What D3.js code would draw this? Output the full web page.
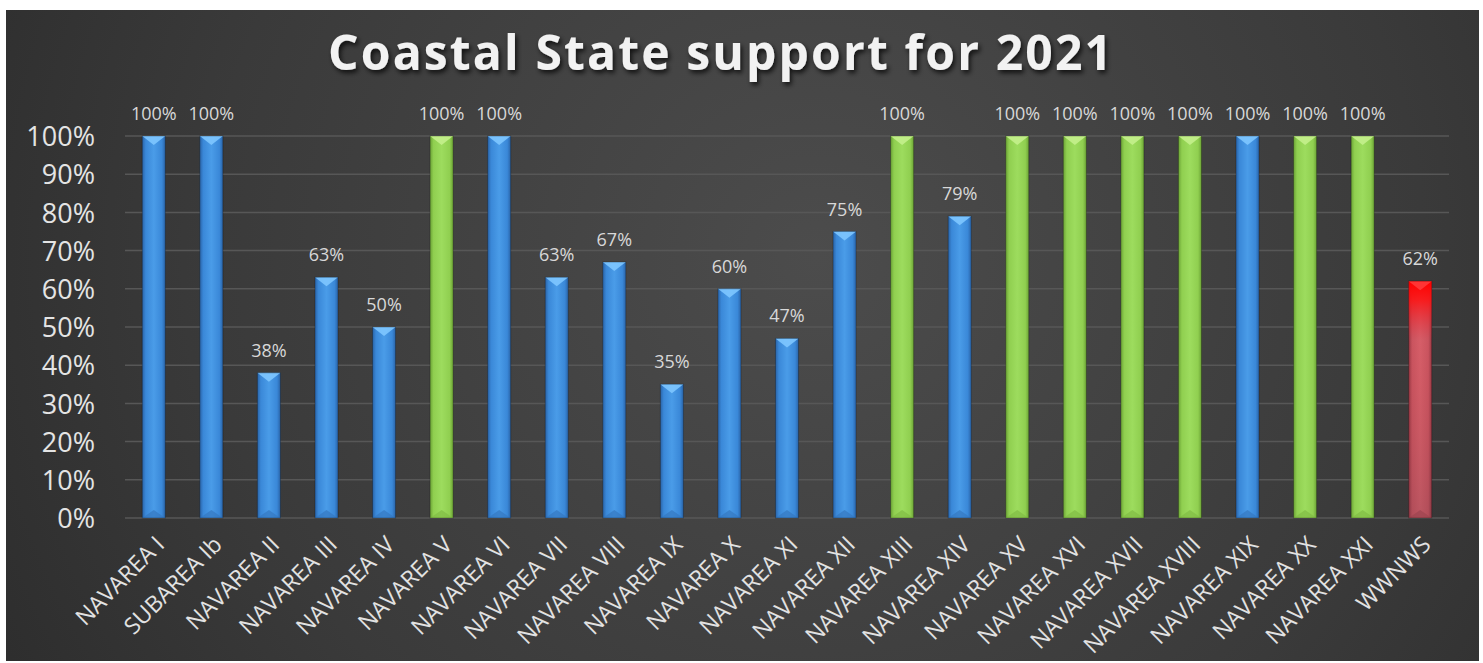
<!DOCTYPE html>
<html><head><meta charset="utf-8">
<script src="https://cdn.jsdelivr.net/npm/d3@7"></script>
<style>
html,body{margin:0;padding:0;background:#fff;}
svg{display:block;}
</style></head><body>
<svg id="chart" width="1483" height="663"></svg>
<script>
const categories = ["NAVAREA I","SUBAREA Ib","NAVAREA II","NAVAREA III","NAVAREA IV","NAVAREA V","NAVAREA VI","NAVAREA VII","NAVAREA VIII","NAVAREA IX","NAVAREA X","NAVAREA XI","NAVAREA XII","NAVAREA XIII","NAVAREA XIV","NAVAREA XV","NAVAREA XVI","NAVAREA XVII","NAVAREA XVIII","NAVAREA XIX","NAVAREA XX","NAVAREA XXI","WWNWS"];
const values = [100,100,38,63,50,100,100,63,67,35,60,47,75,100,79,100,100,100,100,100,100,100,62];
const colorGroups = ["blue","blue","blue","blue","blue","green","blue","blue","blue","blue","blue","blue","blue","green","blue","green","green","green","green","blue","green","green","red"];
const yTicks = [0,10,20,30,40,50,60,70,80,90,100];
const title = "Coastal State support for 2021";

const svg = d3.select("#chart");
const defs = svg.append("defs");

// background
const bg = defs.append("radialGradient").attr("id","bg")
  .attr("cx","0.55").attr("cy","0.38").attr("r","0.75")
  .attr("gradientTransform","translate(0.55,0.38) scale(1,2.2) translate(-0.55,-0.38)");
bg.append("stop").attr("offset","0%").attr("stop-color","#4c4c4c");
bg.append("stop").attr("offset","55%").attr("stop-color","#3a3a3a");
bg.append("stop").attr("offset","100%").attr("stop-color","#262626");
svg.append("rect").attr("x",6).attr("y",10).attr("width",1473).attr("height",651).attr("fill","url(#bg)");

const shadow = defs.append("filter").attr("id","tshadow").attr("x","-10%").attr("y","-30%").attr("width","120%").attr("height","160%");
shadow.append("feDropShadow").attr("dx",2).attr("dy",3).attr("stdDeviation",2.5).attr("flood-color","#000").attr("flood-opacity",0.75);

const palettes = {
  blue: {edge:"#2a64a8", mid:"#3a88d8", light:"#4a9ce8", top:"#7ec6ff", bot:"#3578c0"},
  green:{edge:"#6ca436", mid:"#90cf50", light:"#9ddc5e", top:"#c4f08c", bot:"#80bc44"},
  red:  {edge:"#8e3a44", mid:"#c65a64", light:"#d4666f", top:"#ff3a3a", bot:"#9c4450"}
};
Object.entries(palettes).forEach(([k,p])=>{
  const g = defs.append("linearGradient").attr("id","h_"+k).attr("x1","0").attr("x2","1").attr("y1","0").attr("y2","0");
  g.append("stop").attr("offset","0%").attr("stop-color",p.edge);
  g.append("stop").attr("offset","15%").attr("stop-color",p.mid);
  g.append("stop").attr("offset","50%").attr("stop-color",p.light);
  g.append("stop").attr("offset","85%").attr("stop-color",p.mid);
  g.append("stop").attr("offset","100%").attr("stop-color",p.edge);
});
// red vertical overlay
const rv = defs.append("linearGradient").attr("id","v_red").attr("x1","0").attr("x2","0").attr("y1","0").attr("y2","1");
rv.append("stop").attr("offset","0%").attr("stop-color","#ff0000").attr("stop-opacity",1);
rv.append("stop").attr("offset","8%").attr("stop-color","#ff1010").attr("stop-opacity",0.85);
rv.append("stop").attr("offset","25%").attr("stop-color","#e03040").attr("stop-opacity",0.15);
rv.append("stop").attr("offset","100%").attr("stop-color","#803040").attr("stop-opacity",0.3);

const margin = {left:125, right:1449, top:136, bottom:518};
const x = d3.scaleBand().domain(categories).range([margin.left, margin.right]).paddingInner(0.6).paddingOuter(0.3);
const y = d3.scaleLinear().domain([0,100]).range([margin.bottom, margin.top]);

// gridlines
svg.append("g").selectAll("line").data(yTicks).join("line")
  .attr("x1",margin.left).attr("x2",margin.right)
  .attr("y1",d=>y(d)).attr("y2",d=>y(d))
  .attr("stroke","#575757").attr("stroke-width",1.5);

// y axis labels
const yAxis = d3.axisLeft(y).tickValues(yTicks).tickFormat(d=>d+"%").tickSize(0).tickPadding(0);
const yg = svg.append("g").attr("transform","translate(95,0)").call(yAxis);
yg.select(".domain").remove();
yg.selectAll("text").attr("fill","#e4e4e4").style("font-family","'Open Sans', sans-serif").style("font-size","27px").attr("dy","0.36em");

// bars
const bars = svg.append("g").selectAll("g").data(values).join("g");
bars.each(function(v,i){
  const g = d3.select(this);
  const c = colorGroups[i], p = palettes[c];
  const x0 = x(categories[i]), w = x.bandwidth();
  const y0 = y(v), h = y(0)-y(v);
  g.append("rect").attr("x",x0).attr("y",y0).attr("width",w).attr("height",h).attr("fill","url(#h_"+c+")");
  if(c==="red") g.append("rect").attr("x",x0).attr("y",y0).attr("width",w).attr("height",h).attr("fill","url(#v_red)");
  // top bevel
  g.append("path").attr("d",`M${x0},${y0} L${x0+w},${y0} L${x0+w/2},${y0+9} Z`).attr("fill",p.top).attr("opacity",0.9);
  // bottom bevel
  g.append("path").attr("d",`M${x0},${y(0)} L${x0+w},${y(0)} L${x0+w/2},${y(0)-8} Z`).attr("fill",p.bot).attr("opacity",0.7);
  g.append("rect").attr("x",x0).attr("y",y0).attr("width",w).attr("height",h).attr("fill","none").attr("stroke","#000").attr("stroke-opacity",0.25).attr("stroke-width",1);
});

// data labels
svg.append("g").selectAll("text").data(values).join("text")
  .attr("x",(d,i)=>x(categories[i])+x.bandwidth()/2)
  .attr("y",d=>y(d)-16)
  .attr("text-anchor","middle")
  .attr("fill","#d8d8d8")
  .style("font-family","'Open Sans', sans-serif").style("font-size","18px")
  .text(d=>d+"%");

// x axis labels
const xAxis = d3.axisBottom(x).tickSize(0).tickPadding(0);
const xg = svg.append("g").attr("transform",`translate(0,${margin.bottom})`).call(xAxis);
xg.select(".domain").remove();
xg.selectAll("text")
  .attr("fill","#e2e2e2")
  .style("font-family","'Open Sans', sans-serif").style("font-size","23px")
  .attr("text-anchor","end")
  .attr("dy","0")
  .attr("y",0)
  .attr("transform","translate(12,28) rotate(-45)");

// title
svg.append("text").attr("x",720).attr("y",70).attr("text-anchor","middle")
  .attr("fill","#f2f2f2").style("font-family","'Open Sans', sans-serif").style("font-weight","700").style("font-size","48px")
  .attr("filter","url(#tshadow)")
  .attr("textLength",784).attr("lengthAdjust","spacing")
  .text(title);
</script>
</body></html>
